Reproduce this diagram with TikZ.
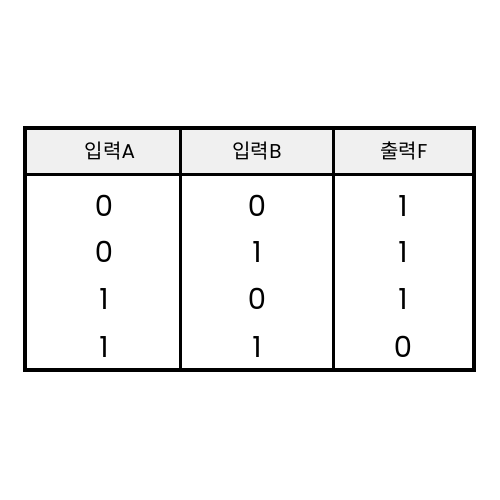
\documentclass[tikz,border=0pt]{standalone}
\usepackage{fontspec}
\setmainfont{Poppins}
\newfontfamily\kr{Noto Sans CJK KR}
\begin{document}
\begin{tikzpicture}[x=1pt,y=-1pt,
  hdr/.style={font=\fontsize{20}{22}\selectfont, anchor=center, inner sep=0pt},
  cell/.style={font=\fontsize{29}{32}\selectfont, anchor=center, inner sep=0pt},
  rule/.style={line width=3pt, black}]
\useasboundingbox (0,0) rectangle (500,500);
\fill[white] (0,0) rectangle (500,500);
\fill[black!6] (25,128) rectangle (474,174);
\coordinate (tl) at (25,128);
\coordinate (br) at (474,370);
\coordinate (hl) at (25,174);
\coordinate (hr) at (474,174);
\coordinate (c1t) at (180,128);
\coordinate (c1b) at (180,370);
\coordinate (c2t) at (333,128);
\coordinate (c2b) at (333,370);
\draw[rule] (hl) -- (hr);
\draw[rule] (c1t) -- (c1b);
\draw[rule] (c2t) -- (c2b);
\draw[rule, line width=3.5pt] (tl) rectangle (br);
\node[hdr] (ha) at (110,151) {{\kr 입력}A};
\node[hdr] (hb) at (257,151) {{\kr 입력}B};
\node[hdr] (hf) at (404,151) {{\kr 출력}F};
\node[cell] (a1) at (104,206) {0};
\node[cell] (b1) at (257,206) {0};
\node[cell] (f1) at (403,206) {1};
\node[cell] (a2) at (104,252) {0};
\node[cell] (b2) at (257,252) {1};
\node[cell] (f2) at (403,252) {1};
\node[cell] (a3) at (104,299) {1};
\node[cell] (b3) at (257,299) {0};
\node[cell] (f3) at (403,299) {1};
\node[cell] (a4) at (104,347) {1};
\node[cell] (b4) at (257,347) {1};
\node[cell] (f4) at (403,347) {0};
\end{tikzpicture}
\end{document}
